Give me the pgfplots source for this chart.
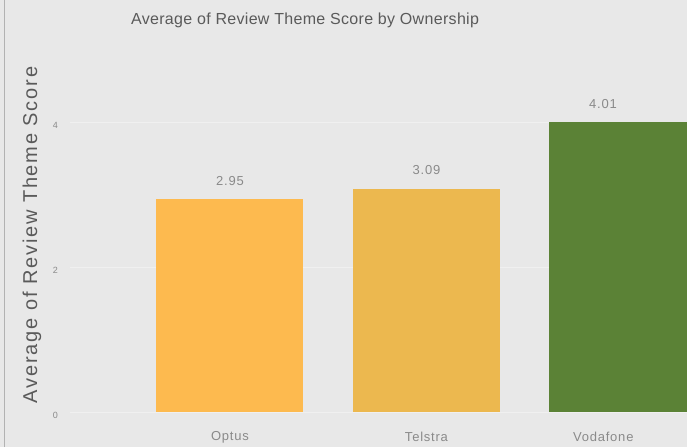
\documentclass[border=0pt]{standalone}
\usepackage{pgfplots}
\pgfplotsset{compat=1.18}
\usepackage{fontspec}
\setmainfont{Liberation Sans}
\definecolor{bg}{HTML}{E8E8E8}
\definecolor{optus}{HTML}{FDBA4F}
\definecolor{telstra}{HTML}{ECB84F}
\definecolor{voda}{HTML}{5B8236}
\definecolor{txtgray}{HTML}{8A8A8A}
\definecolor{titlegray}{HTML}{5A5A5A}
\begin{document}
\begin{tikzpicture}
\fill[bg] (0,0) rectangle (687pt,447pt);
\useasboundingbox (0,0) rectangle (687pt,447pt);
\draw[gray!60, line width=1pt] (4.5pt,0) -- (4.5pt,447pt);
\begin{axis}[
  at={(70pt,35pt)}, anchor=south west,
  scale only axis,
  width=617pt, height=361.5pt,
  xmin=-0.814, xmax=2.326,
  ymin=0, ymax=5,
  axis line style={draw=none},
  major tick length=0pt,
  xtick={0,1,1.9},
  xticklabels={Optus,Telstra,Vodafone},
  ytick={0,2,4},
  xticklabel style={font=\fontsize{13}{15}\selectfont\addfontfeature{LetterSpace=6}, text=txtgray, anchor=center, yshift=-25pt},
  yticklabel style={font=\fontsize{9}{10}\selectfont, text=txtgray, anchor=east, inner sep=0pt, xshift=-12pt, yshift=-3pt},
  /pgf/number format/assume math mode=true,
  ymajorgrids,
  major grid style={white, line width=0.8pt, opacity=0.35},
  title={Average of Review Theme Score by Ownership},
  title style={font=\fontsize{16}{18}\selectfont\addfontfeature{LetterSpace=2}, text=titlegray, at={(rel axis cs:0.381,1.068)}, anchor=center},
  ylabel={Average of Review Theme Score},
  ylabel style={font=\fontsize{20}{22}\selectfont\addfontfeature{LetterSpace=9}, text=titlegray, at={(rel axis cs:-0.0616,0.49)}, anchor=center, rotate=0},
  ybar, bar width=147pt, bar shift=0pt,
  nodes near coords,
  nodes near coords style={font=\fontsize{13}{15}\selectfont\addfontfeature{LetterSpace=6}, text=txtgray, yshift=10pt},
  point meta=explicit symbolic,
]
\addplot[fill=optus, draw=none] coordinates {(0,2.95) [2.95]};
\addplot[fill=telstra, draw=none] coordinates {(1,3.09) [3.09]};
\addplot[fill=voda, draw=none, nodes near coords style={xshift=-20pt}] coordinates {(2,4.01) [4.01]};
\end{axis}
\end{tikzpicture}
\end{document}
